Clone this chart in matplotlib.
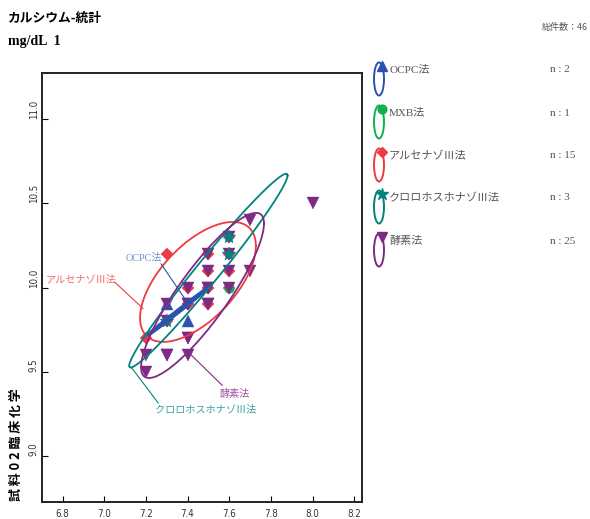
import numpy as np
import matplotlib
matplotlib.use("Agg")
import matplotlib.pyplot as plt
from matplotlib.patches import Ellipse

W, H = 590, 519
JP = ['Noto Sans CJK JP', 'DejaVu Sans']
SERIF_JP = ['Liberation Serif', 'Noto Sans CJK JP']
NARROW = ['Liberation Sans Narrow', 'DejaVu Sans']

# methods
methods = ['OCPC法', 'MXB法', 'アルセナゾⅢ法', 'クロロホスホナゾⅢ法', '酵素法']
counts = [2, 1, 15, 3, 25]
colors = ['#2a52b0', '#10b050', '#ee3a42', '#00837e', '#7e2a84']
label_colors = ['#6f8bd2', '#10b050', '#f06a6a', '#3aa0a0', '#a050a4']
markers = ['^', 'o', 'D', '*', 'v']
msizes = [8, 7, 6, 10, 8.5]

# points per method
ocpc_x = [7.3, 7.4]
ocpc_y = [9.9, 9.8]
mxb_x = [7.6]
mxb_y = [10.0]
arsenazo_x = [7.3, 7.2, 7.6, 7.6, 7.5, 7.6, 7.4, 7.5, 7.4, 7.5, 7.3, 7.5, 7.6, 7.4, 7.5]
arsenazo_y = [10.2, 9.7, 10.3, 10.2, 10.1, 10.1, 10.0, 10.0, 9.9, 9.9, 9.8, 10.2, 10.0, 9.9, 10.0]
chloro_x = [7.6, 7.6, 7.3]
chloro_y = [10.3, 10.2, 9.8]
enzyme_x = [7.7, 7.6, 7.5, 7.6, 7.5, 7.6, 7.7, 7.4, 7.5, 7.6, 7.3, 7.4, 7.5,
            7.3, 7.4, 7.2, 7.3, 7.4, 7.2, 8.0, 7.4, 7.5, 7.3, 7.4, 7.5]
enzyme_y = [10.4, 10.3, 10.2, 10.2, 10.1, 10.1, 10.1, 10.0, 10.0, 10.0, 9.9, 9.9, 9.9,
            9.8, 9.7, 9.6, 9.6, 9.6, 9.5, 10.5, 9.9, 10.0, 9.6, 9.7, 9.9]

xs = [ocpc_x, mxb_x, arsenazo_x, chloro_x, enzyme_x]
ys = [ocpc_y, mxb_y, arsenazo_y, chloro_y, enzyme_y]

# ellipse stats per method (center, half width, half height, r); MXB has none
ell_cx = [7.352, None, 7.45, 7.50, 7.472]
ell_cy = [9.856, None, 10.033, 10.10, 9.953]
ell_hw = [0.148, None, 0.278, 0.38, 0.295]
ell_hh = [0.144, None, 0.356, 0.575, 0.49]
ell_r = [0.998, None, 0.60, 0.982, 0.87]
ell_lw = [2.2, 0, 1.3, 1.3, 1.3]

# annotation labels: text pos, leader start, leader end (data)
ann_idx = [0, 2, 4, 3]
ann_text = [(7.278, 10.175), (7.06, 10.05), (7.555, 9.37), (7.245, 9.275)]
ann_ha = ['right', 'right', 'left', 'left']
ann_from = [(7.273, 10.14), (7.052, 10.03), (7.566, 9.42), (7.259, 9.315)]
ann_to = [(7.40, 9.91), (7.186, 9.876), (7.393, 9.629), (7.129, 9.528)]

x_ticks = [6.8, 7.0, 7.2, 7.4, 7.6, 7.8, 8.0, 8.2]
y_ticks = [9.0, 9.5, 10.0, 10.5, 11.0]

fig = plt.figure(figsize=(W / 100, H / 100), dpi=100)
ax = fig.add_axes([41.7 / W, 1 - 502 / H, 320 / W, 429 / H])
ax.set_xlim(6.70, 8.236)
ax.set_ylim(8.727, 11.273)

draw_order = [2, 0, 1, 4, 3]
for i in draw_order:
    ax.plot(xs[i], ys[i], linestyle='none', marker=markers[i], ms=msizes[i],
            color=colors[i], mec=colors[i], mew=0.3, zorder=3 + draw_order.index(i))

t = np.linspace(0, 2 * np.pi, 400)
for i in range(len(methods)):
    if ell_cx[i] is None:
        continue
    r = ell_r[i]
    ex = ell_cx[i] + ell_hw[i] * np.cos(t)
    ey = ell_cy[i] + ell_hh[i] * (r * np.cos(t) + np.sqrt(1 - r * r) * np.sin(t))
    ax.plot(ex, ey, color=colors[i], lw=ell_lw[i], zorder=10)

for k, i in enumerate(ann_idx):
    ax.plot([ann_from[k][0], ann_to[k][0]], [ann_from[k][1], ann_to[k][1]],
            color=colors[i], lw=0.8, zorder=11)
    ax.text(ann_text[k][0], ann_text[k][1], methods[i], ha=ann_ha[k], va='center',
            color=label_colors[i], fontsize=7.3, family=SERIF_JP, zorder=12)

ax.set_xticks(x_ticks)
ax.set_xticklabels([f'{v:.1f}' for v in x_ticks], family=NARROW, fontsize=7,
                   color='#333333', fontstretch='condensed')
ax.set_yticks(y_ticks)
ax.set_yticklabels([f'{v:.1f}' for v in y_ticks], family=NARROW, fontsize=7,
                   color='#333333', fontstretch='condensed')
for lab in ax.get_yticklabels():
    lab.set_rotation(90)
    lab.set_va('bottom')
ax.tick_params(direction='in', length=4, width=0.8, top=False, right=False)
ax.tick_params(axis='x', pad=5)
ax.tick_params(axis='y', pad=2)
for sp in ax.spines.values():
    sp.set_linewidth(1.4)
    sp.set_color('#222222')

# overlay in pixel coordinates for titles and legend
ov = fig.add_axes([0, 0, 1, 1])
ov.set_xlim(0, W)
ov.set_ylim(H, 0)
ov.axis('off')

ov.text(8, 18, 'カルシウム-統計', family=JP, fontweight='bold', fontsize=9.2, va='center', ha='left')
ov.text(8, 42, 'mg/dL  1', family=['Liberation Serif'], fontweight='bold', fontsize=10, va='center', ha='left')
ov.text(588, 27, '総件数：46', family=JP, fontsize=6.5, color='#555555', va='center', ha='right')
ov.text(16, 501, '試 料 0 2 臨 床 化 学', family=JP, fontweight='bold', fontsize=9.3,
        rotation=90, va='bottom', ha='center')

legend_y = [70, 113, 156, 198, 241]
for i, ly in enumerate(legend_y):
    ov.add_patch(Ellipse((379, ly + 9), 10, 33, fill=False, edgecolor=colors[i], lw=1.4))
    ov.plot([382], [ly - 4], marker=markers[i], ms=msizes[i] * 0.9, color=colors[i], linestyle='none')
    ov.text(389, ly, methods[i], family=SERIF_JP, fontsize=8, color='#555555', va='center', ha='left')
    ov.text(550, ly, f'n : {counts[i]}', family=['Liberation Serif'], fontsize=8, color='#555555',
            va='center', ha='left')

fig.savefig('out.png', dpi=100)
